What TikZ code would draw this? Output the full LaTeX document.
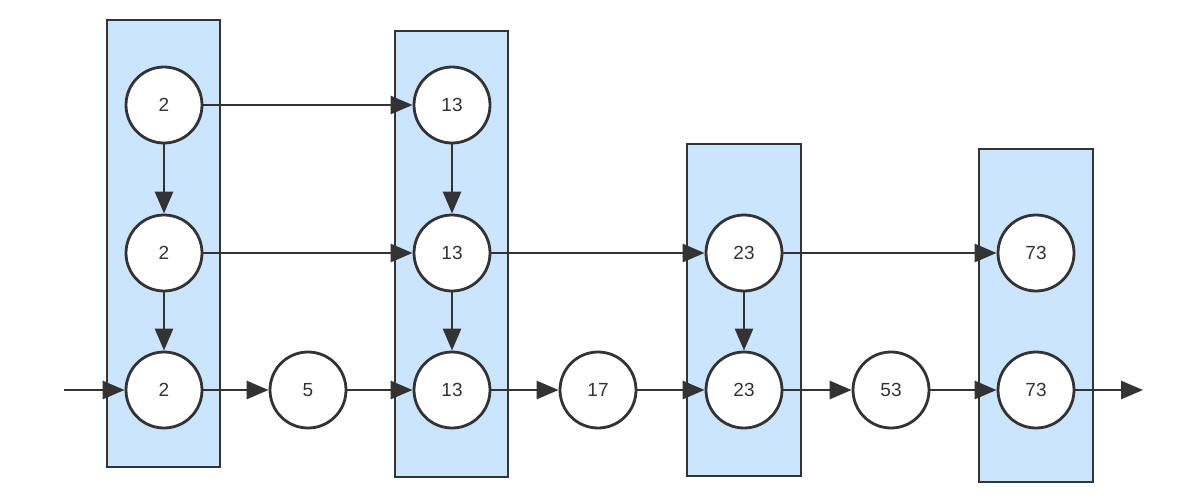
\documentclass[tikz,border=0pt]{standalone}
\usepackage{fontspec}
\setmainfont{Liberation Sans}
\usetikzlibrary{arrows.meta}
\definecolor{boxfill}{HTML}{CCE5FF}
\definecolor{ink}{HTML}{333333}
\begin{document}
\begin{tikzpicture}[x=1pt,y=-1pt,
  colbox/.style={draw=ink,fill=boxfill,line width=2.8pt},
  num/.style={circle,draw=ink,fill=white,line width=2.8pt,minimum size=76pt,inner sep=0pt,font=\fontsize{19}{21}\selectfont,text=ink},
  link/.style={draw=ink,line width=2.8pt,-{Triangle[length=22pt,width=18pt]}}]
\useasboundingbox (0,0) rectangle (1201,500);
\draw[colbox] (107,20) rectangle (220,467);
\draw[colbox] (395,31) rectangle (508,477);
\draw[colbox] (687,144) rectangle (801,476);
\draw[colbox] (979,149) rectangle (1093,482);
\node[num] (a1) at (164,105) {2};
\node[num] (a2) at (164,253) {2};
\node[num] (a3) at (164,390) {2};
\node[num] (n5) at (308,390) {5};
\node[num] (b1) at (452,105) {13};
\node[num] (b2) at (452,253) {13};
\node[num] (b3) at (452,390) {13};
\node[num] (n17) at (598,390) {17};
\node[num] (c2) at (744,253) {23};
\node[num] (c3) at (744,390) {23};
\node[num] (n53) at (891,390) {53};
\node[num] (d2) at (1036,253) {73};
\node[num] (d3) at (1036,390) {73};
\coordinate (in) at (64,390);
\coordinate (out) at (1143,390);
\draw[link] (in) -- (a3);
\draw[link] (a1) -- (a2);
\draw[link] (a2) -- (a3);
\draw[link] (b1) -- (b2);
\draw[link] (b2) -- (b3);
\draw[link] (c2) -- (c3);
\draw[link] (a1) -- (b1);
\draw[link] (a2) -- (b2);
\draw[link] (b2) -- (c2);
\draw[link] (c2) -- (d2);
\draw[link] (a3) -- (n5);
\draw[link] (n5) -- (b3);
\draw[link] (b3) -- (n17);
\draw[link] (n17) -- (c3);
\draw[link] (c3) -- (n53);
\draw[link] (n53) -- (d3);
\draw[link] (d3) -- (out);
\end{tikzpicture}
\end{document}
